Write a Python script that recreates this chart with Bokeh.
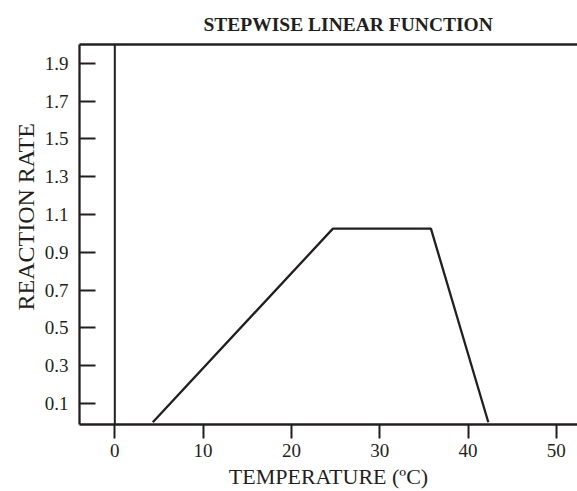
from bokeh.plotting import figure
from bokeh.models import Span, LinearAxis, Title, FixedTicker, Range1d
from bokeh.embed import file_html
from bokeh.resources import INLINE

temperature = [4.3, 24.7, 35.8, 42.3]
reaction_rate = [0.0, 1.025, 1.025, 0.0]
x_ticks = [0, 10, 20, 30, 40, 50]
y_ticks = [0.1, 0.3, 0.5, 0.7, 0.9, 1.1, 1.3, 1.5, 1.7, 1.9]

INK = "#231f20"
FONT = "Liberation Serif"

p = figure(width=577, height=491, output_backend="svg", toolbar_location=None,
           x_range=Range1d(-4.0, 52.4), y_range=Range1d(-0.012, 2.0),
           min_border_left=79, min_border_right=0, min_border_top=44, min_border_bottom=0)
p.grid.visible = False
p.outline_line_color = None
p.background_fill_color = "white"

p.line(temperature, reaction_rate, line_color=INK, line_width=2.3)
p.add_layout(Span(location=0, dimension="height", line_color=INK, line_width=2))

xa = p.xaxis[0]
xa.ticker = FixedTicker(ticks=x_ticks)
xa.major_tick_in = 0
xa.major_tick_out = 14
xa.minor_tick_line_color = None
xa.axis_line_width = 2.3
xa.axis_line_color = INK
xa.major_tick_line_width = 2
xa.major_tick_line_color = INK
xa.major_label_standoff = 5
xa.major_label_text_font = FONT
xa.major_label_text_font_size = "19px"
xa.major_label_text_color = INK
xa.axis_label = "TEMPERATURE (ºC)"
xa.axis_label_text_font = FONT
xa.axis_label_text_font_size = "22px"
xa.axis_label_text_font_style = "normal"
xa.axis_label_text_color = INK
xa.axis_label_standoff = 4

ya = p.yaxis[0]
ya.ticker = FixedTicker(ticks=y_ticks)
ya.major_tick_in = 16
ya.major_tick_out = 0
ya.minor_tick_line_color = None
ya.axis_line_width = 2.3
ya.axis_line_color = INK
ya.major_tick_line_width = 2
ya.major_tick_line_color = INK
ya.major_label_standoff = 11
ya.major_label_text_font = FONT
ya.major_label_text_font_size = "19px"
ya.major_label_text_color = INK
ya.axis_label = None

top = LinearAxis(ticker=FixedTicker(ticks=[]), major_tick_line_color=None,
                 minor_tick_line_color=None, major_label_text_font_size="0px",
                 axis_line_width=2.3, axis_line_color=INK)
p.add_layout(top, "above")

ylab = Title(text="REACTION RATE", align="left", offset=114,
             text_font=FONT, text_font_size="24px", text_font_style="normal",
             text_color=INK, standoff=5)
p.add_layout(ylab, "left")

p.title.text = "STEPWISE LINEAR FUNCTION"
p.title.align = "left"
p.title.offset = 124
p.title.text_font = FONT
p.title.text_font_size = "19.5px"
p.title.text_font_style = "bold"
p.title.text_color = INK
p.title.standoff = 20

open("out.html", "w").write(file_html(p, INLINE))
